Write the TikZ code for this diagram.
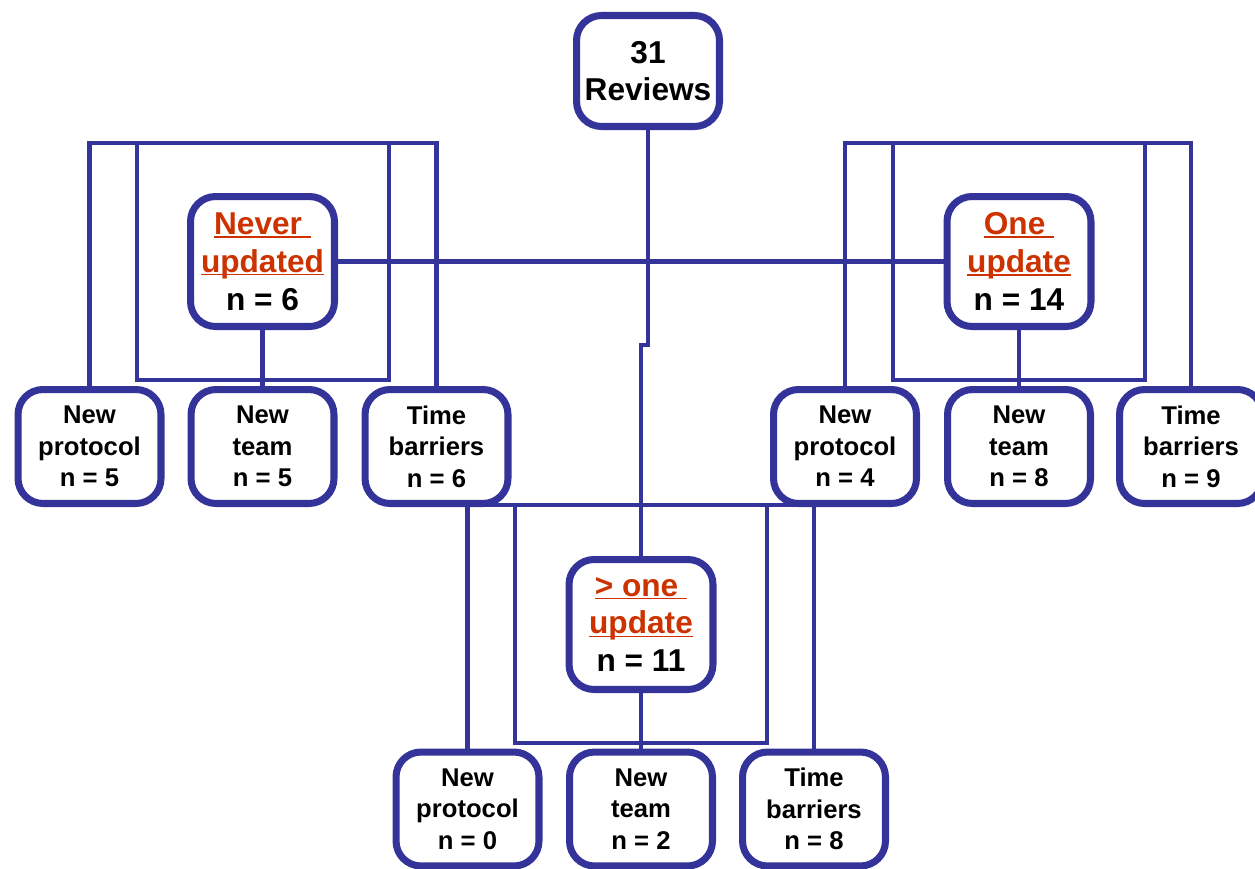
\documentclass[tikz,border=0pt]{standalone}
\usepackage{fontspec}
\setmainfont{Liberation Sans}
\usetikzlibrary{backgrounds}

\definecolor{navy}{RGB}{51,51,153}
\definecolor{ured}{RGB}{204,51,0}
\newcommand{\redul}[1]{\textcolor{ured}{\setbox0=\hbox{#1}\rlap{\rule[-1.8pt]{\wd0}{0.9pt}}\box0}}

\tikzset{
  box/.style={draw=navy, line width=4pt, rounded corners=0.5cm, fill=white, align=center, inner sep=0pt,
    minimum width=2.86cm, minimum height=2.28cm, font=\bfseries\fontsize{14.6}{17.9}\selectfont},
  topbox/.style={box, minimum height=2.22cm, font=\bfseries\fontsize{18}{21.5}\selectfont},
  midbox/.style={topbox, minimum width=2.88cm, minimum height=2.6cm},
  link/.style={draw=navy, line width=2.8pt}
}

\begin{document}
\begin{tikzpicture}[x=0.02cm,y=-0.02cm]
	\path[use as bounding box] (0,0) rectangle (1255,869);
	\clip (0,0) rectangle (1255,869);
	% main boxes
	\node[topbox] (rev) at (648,71) {31\\Reviews};
	\node[midbox] (never) at (262.5,261.5) {\redul{Never }\\\redul{updated}\\n = 6};
	\node[midbox] (one) at (1019,261.5) {\redul{One }\\\redul{update}\\n = 14};
	\node[midbox] (more) at (641,624.5) {\redul{> one }\\\redul{update}\\n = 11};
	% reasons
	\foreach \nm/\x/\txt in {np1/89.5/New\\protocol\\n = 5, ntm1/262.5/New\\team\\n = 5, tb1/436.5/Time\\barriers\\n = 6,
	  np2/845/New\\protocol\\n = 4, ntm2/1019/New\\team\\n = 8, tb2/1191/Time\\barriers\\n = 9}
	  \node[box] (\nm) at (\x,446.5) {\txt};
	\foreach \nm/\x/\txt in {np3/467.5/New\\protocol\\n = 0, ntm3/641/New\\team\\n = 2, tb3/814/Time\\barriers\\n = 8}
	  \node[box] (\nm) at (\x,809) {\txt};
	\coordinate (lbar) at (0,143);
	\coordinate (cbar) at (0,505);
	\coordinate (jog) at (648,345);
	\begin{scope}[on background layer]
	  \draw[link] (np1.north) |- (lbar -| tb1.north) -- (tb1.north);
	  \draw[link] (137,143) rectangle (389,380);
	  \draw[link] (never) -- (ntm1);
	  \draw[link] (never) -- (one);
	  \draw[link] (np2.north) |- (lbar -| tb2.north) -- (tb2.north);
	  \draw[link] (893,143) rectangle (1145,380);
	  \draw[link] (one) -- (ntm2);
	  \draw[link] (rev) -- (jog) -- (jog -| more) -- (more);
	  \draw[link] (np3.north) |- (cbar -| tb3.north) -- (tb3.north);
	  \draw[link] (515,505) rectangle (767,743);
	  \draw[link] (more) -- (ntm3);
	\end{scope}
\end{tikzpicture}
\end{document}
